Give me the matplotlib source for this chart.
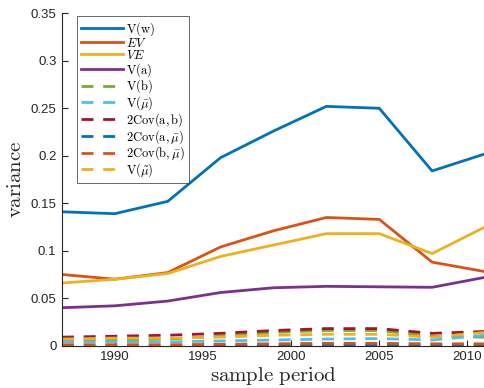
import numpy as np
import matplotlib
matplotlib.use("Agg")
import matplotlib.pyplot as plt

plt.rcParams['mathtext.fontset'] = 'cm'
plt.rcParams['font.family'] = ['Liberation Sans', 'DejaVu Sans']

years = [1987, 1990, 1993, 1996, 1999, 2002, 2005, 2008, 2011]

v_w = [0.141, 0.139, 0.152, 0.198, 0.226, 0.252, 0.250, 0.184, 0.202]
ev = [0.075, 0.070, 0.077, 0.104, 0.121, 0.135, 0.133, 0.088, 0.078]
ve = [0.066, 0.070, 0.076, 0.094, 0.106, 0.118, 0.118, 0.097, 0.125]
v_a = [0.040, 0.042, 0.047, 0.056, 0.061, 0.0625, 0.062, 0.0615, 0.072]
v_b = [0.006, 0.006, 0.007, 0.010, 0.014, 0.016, 0.016, 0.010, 0.009]
v_mubar = [0.004, 0.004, 0.004, 0.005, 0.006, 0.007, 0.0075, 0.006, 0.011]
cov_ab = [0.009, 0.010, 0.011, 0.013, 0.016, 0.018, 0.018, 0.013, 0.015]
cov_amu = [-0.002, -0.002, -0.001, 0.0, 0.0, 0.0005, 0.0005, -0.0005, 0.001]
cov_bmu = [0.001, 0.001, 0.001, 0.0015, 0.002, 0.0025, 0.0025, 0.002, 0.002]
v_mutilde = [0.007, 0.008, 0.008, 0.009, 0.011, 0.012, 0.012, 0.009, 0.014]

labels = [r'$\mathrm{V(w)}$', r'$EV$', r'$VE$', r'$\mathrm{V(a)}$',
          r'$\mathrm{V(b)}$', r'$\mathrm{V(}\bar{\mu}\mathrm{)}$',
          r'$\mathrm{2Cov(a,b)}$', r'$\mathrm{2Cov(a,}\bar{\mu}\mathrm{)}$',
          r'$\mathrm{2Cov(b,}\bar{\mu}\mathrm{)}$', r'$\mathrm{V(}\tilde{\mu}\mathrm{)}$']

series = [v_w, ev, ve, v_a, v_b, v_mubar, cov_ab, cov_amu, cov_bmu, v_mutilde]
colors = ['#0072BD', '#D95319', '#EDB120', '#7E2F8E', '#77AC30', '#4DBEEE',
          '#A2142F', '#0072BD', '#D95319', '#EDB120']
styles = ['-'] * 4 + ['--'] * 6

fig = plt.figure(figsize=(4.85, 3.88), dpi=100)
ax = fig.add_axes([62 / 485, 42.3 / 388, 423 / 485, 332.4 / 388])

for vals, lab, c, ls in zip(series, labels, colors, styles):
    if ls == '--':
        ax.plot(years, vals, color=c, lw=2, ls=ls, dashes=(4.3, 3.5), label=lab)
    else:
        ax.plot(years, vals, color=c, lw=2, ls=ls, label=lab)

ax.set_xlim(1987, 2011)
ax.set_ylim(0, 0.35)
ax.set_xticks([1990, 1995, 2000, 2005, 2010])
ax.set_yticks(np.arange(0, 0.351, 0.05))
ax.set_yticklabels(['0', '0.05', '0.1', '0.15', '0.2', '0.25', '0.3', '0.35'])

for s in ['top', 'right']:
    ax.spines[s].set_visible(False)
for s in ['left', 'bottom']:
    ax.spines[s].set_color('#262626')
    ax.spines[s].set_linewidth(0.8)
ax.tick_params(direction='in', length=4, width=0.8, colors='#262626',
               labelsize=9.5, pad=4)

ax.set_xlabel(r'$\mathrm{sample\ period}$', fontsize=15, color='#262626', labelpad=1)
ax.set_ylabel(r'$\mathrm{variance}$', fontsize=15, color='#262626', labelpad=4)

leg = ax.legend(loc='upper left', bbox_to_anchor=(0.0355, 0.993), fontsize=9,
                frameon=True, fancybox=False, borderaxespad=0, handlelength=3.3,
                labelspacing=-0.08, handletextpad=0.3, borderpad=0.35)
leg.get_frame().set_edgecolor('#262626')
leg.get_frame().set_linewidth(0.6)
for h in leg.get_lines():
    h.set_linewidth(2)

fig.savefig('out.png', dpi=100)
